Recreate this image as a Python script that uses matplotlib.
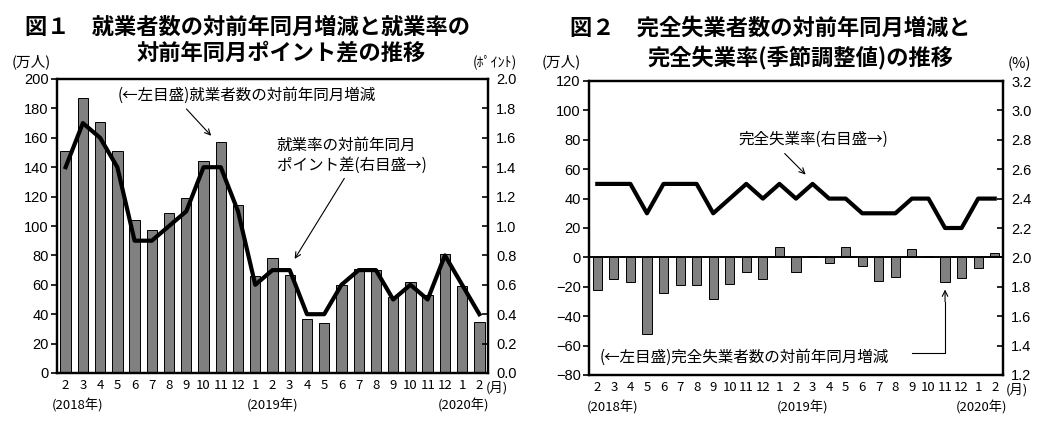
import numpy as np
import matplotlib.pyplot as plt
from matplotlib.ticker import FormatStrFormatter

# 2018年2月 ～ 2020年2月
months = ['2', '3', '4', '5', '6', '7', '8', '9', '10', '11', '12',
          '1', '2', '3', '4', '5', '6', '7', '8', '9', '10', '11', '12',
          '1', '2']
# 図1: 就業者数の対前年同月増減(万人), 就業率の対前年同月ポイント差
emp_change = [151, 187, 171, 151, 104, 97, 109, 119, 144, 157, 114,
              66, 78, 67, 37, 34, 60, 71, 70, 52, 62, 53, 81,
              59, 35]
emp_rate_diff = [1.4, 1.7, 1.6, 1.4, 0.9, 0.9, 1.0, 1.1, 1.4, 1.4, 1.1,
                 0.6, 0.7, 0.7, 0.4, 0.4, 0.6, 0.7, 0.7, 0.5, 0.6, 0.5, 0.8,
                 0.6, 0.4]
# 図2: 完全失業者数の対前年同月増減(万人), 完全失業率(季節調整値, %)
unemp_change = [-22, -15, -17, -52, -24, -19, -19, -28, -18, -10, -15,
                7, -10, 1, -4, 7, -6, -16, -13, 6, 1, -17, -14,
                -7, 3]
unemp_rate = [2.5, 2.5, 2.5, 2.3, 2.5, 2.5, 2.5, 2.3, 2.4, 2.5, 2.4,
              2.5, 2.4, 2.5, 2.4, 2.4, 2.3, 2.3, 2.3, 2.4, 2.4, 2.2, 2.2,
              2.4, 2.4]

plt.rcParams['font.family'] = ['Liberation Sans', 'Noto Sans CJK JP']
JP = ['Noto Sans CJK JP', 'DejaVu Sans']
NOTE = 11.2   # annotation size
TITLE = 16

fig = plt.figure(figsize=(10.56, 4.21), dpi=100)
x = np.arange(len(months))


def style(ax, axr):
    for a in (ax, axr):
        for s in a.spines.values():
            s.set_linewidth(1.6)
    ax.set_xlim(-0.5, len(months) - 0.5)
    ax.set_xticks(x)
    ax.set_xticklabels(months, fontsize=9.5, family=JP)
    ax.tick_params(axis='x', length=0, pad=4)
    ax.tick_params(axis='y', direction='out', length=4, width=1.2, labelsize=10.5, pad=2)
    axr.tick_params(axis='y', direction='in', length=4, width=1.2, labelsize=10.5, pad=6)
    axr.yaxis.set_major_formatter(FormatStrFormatter('%.1f'))


def years(ax, pos, y=-0.11):
    for i, t in pos:
        ax.text(i, y, t, transform=ax.get_xaxis_transform(), ha='center', va='center',
                fontsize=9.5, family=JP)


arrow = dict(arrowstyle='->', color='black', lw=0.8, mutation_scale=10)

# ---- 図1
ax1 = fig.add_axes([57 / 1056, 48 / 421, 431 / 1056, 294 / 421])
ax1.bar(x, emp_change, width=0.6, color='#808080', edgecolor='black', linewidth=0.7)
ax1.set_ylim(0, 200)
ax1.set_yticks(np.arange(0, 201, 20))
ax1r = ax1.twinx()
ax1r.plot(x, emp_rate_diff, color='black', lw=3)
ax1r.set_ylim(0, 2.0)
ax1r.set_yticks(np.arange(0, 2.01, 0.2))
style(ax1, ax1r)
years(ax1, [(0.7, '(2018年)'), (12.0, '(2019年)'), (23.05, '(2020年)')])
ax1.text(25.0, -0.05, '(月)', transform=ax1.get_xaxis_transform(), ha='center',
         va='center', fontsize=9.5, family=JP)

ax1.text(3.0, 189, '(←左目盛)就業者数の対前年同月増減', ha='left', va='center',
         fontsize=NOTE, family=JP)
ax1.annotate('', xy=(8.55, 160), xytext=(6.9, 181), arrowprops=arrow)
ax1.text(12.25, 148, '就業率の対前年同月\nポイント差(右目盛→)', ha='left', va='center',
         fontsize=NOTE, family=JP, linespacing=1.25)
ax1.annotate('', xy=(13.2, 76), xytext=(16.25, 134), arrowprops=arrow)

fig.text(25 / 1056, 1 - 27 / 421, '図１　就業者数の対前年同月増減と就業率の', ha='left',
         va='center', fontsize=TITLE, family=JP, fontweight='bold')
fig.text(137 / 1056, 1 - 53 / 421, '対前年同月ポイント差の推移', ha='left',
         va='center', fontsize=TITLE, family=JP, fontweight='bold')
fig.text(12 / 1056, 1 - 62 / 421, '(万人)', ha='left', va='center', fontsize=10.5, family=JP)
fig.text(473 / 1056, 1 - 62 / 421, '(ﾎﾟｲﾝﾄ)', ha='left', va='center', fontsize=10, family=JP)

# ---- 図2
ax2 = fig.add_axes([589 / 1056, 46 / 421, 414 / 1056, 294 / 421])
ax2.bar(x, unemp_change, width=0.55, color='#808080', edgecolor='black', linewidth=0.7)
ax2.axhline(0, color='black', lw=1.4)
ax2.set_ylim(-80, 120)
ax2.set_yticks(np.arange(-80, 121, 20))
ax2r = ax2.twinx()
ax2r.plot(x, unemp_rate, color='black', lw=3)
ax2r.set_ylim(1.2, 3.2)
ax2r.set_yticks(np.arange(1.2, 3.21, 0.2))
style(ax2, ax2r)
years(ax2, [(0.9, '(2018年)'), (12.4, '(2019年)'), (23.2, '(2020年)')])
ax2.text(25.35, -0.05, '(月)', transform=ax2.get_xaxis_transform(), ha='center',
         va='center', fontsize=9.5, family=JP)

ax2.text(8.5, 80, '完全失業率(右目盛→)', ha='left', va='center', fontsize=NOTE, family=JP)
ax2.annotate('', xy=(12.7, 55), xytext=(11.2, 72), arrowprops=arrow)
ax2.text(0.15, -68, '(←左目盛)完全失業者数の対前年同月増減', ha='left', va='center',
         fontsize=NOTE, family=JP)
ax2.plot([19.0, 21.0, 21.0], [-65, -65, -30], color='black', lw=0.8)
ax2.annotate('', xy=(21.0, -20), xytext=(21.0, -32), arrowprops=arrow)

fig.text(570 / 1056, 1 - 28 / 421, '図２　完全失業者数の対前年同月増減と', ha='left',
         va='center', fontsize=TITLE, family=JP, fontweight='bold')
fig.text(648 / 1056, 1 - 57 / 421, '完全失業率(季節調整値)の推移', ha='left',
         va='center', fontsize=TITLE, family=JP, fontweight='bold')
fig.text(542 / 1056, 1 - 62 / 421, '(万人)', ha='left', va='center', fontsize=10.5, family=JP)
fig.text(1008 / 1056, 1 - 64 / 421, '(%)', ha='left', va='center', fontsize=10.5, family=JP)

fig.savefig('out.png', dpi=100)
